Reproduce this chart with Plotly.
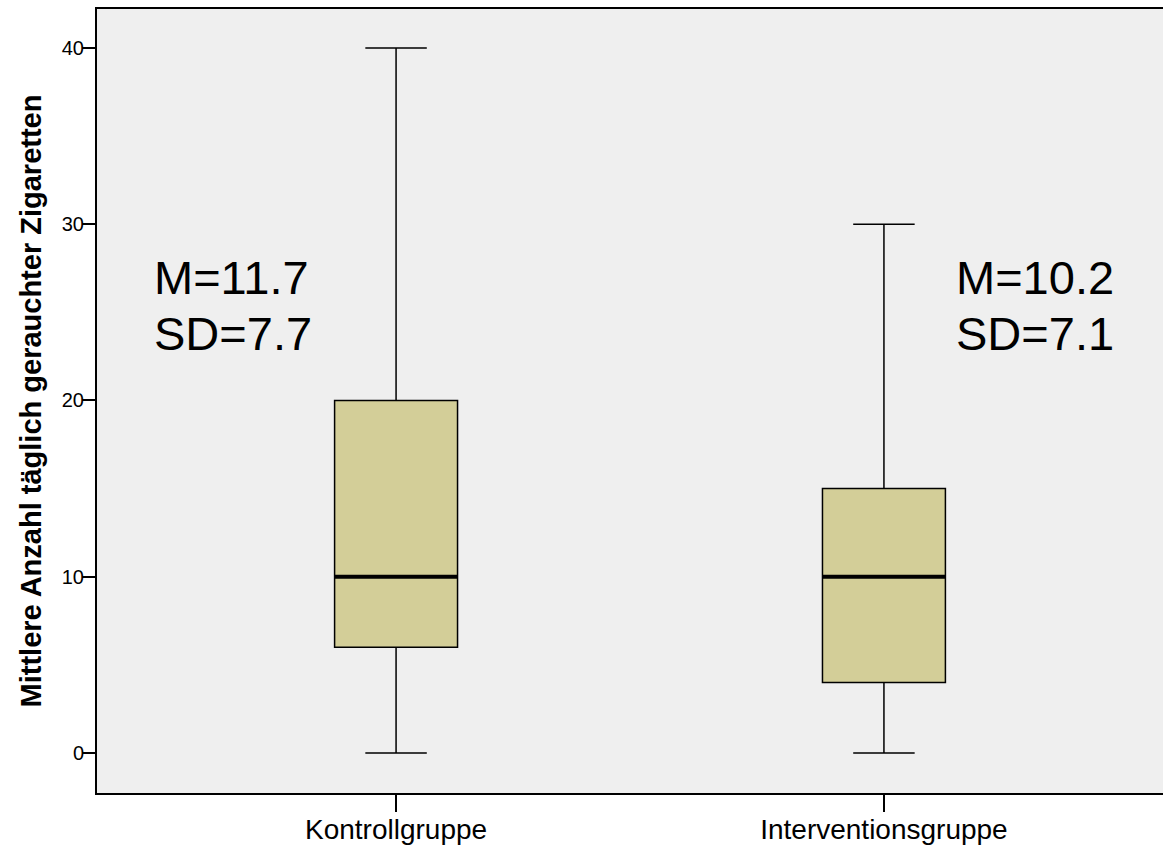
import plotly.graph_objects as go

categories = ["Kontrollgruppe", "Interventionsgruppe"]
positions = [0, 1]
q1 = [6, 4]
median = [10, 10]
q3 = [20, 15]
lower = [0, 0]
upper = [40, 30]
mean_labels = ["M=11.7", "M=10.2"]
sd_labels = ["SD=7.7", "SD=7.1"]

y_ticks = [0, 10, 20, 30, 40]
y_title = "Mittlere Anzahl täglich gerauchter Zigaretten"

FONT = "Liberation Sans, Arial, sans-serif"
BOX_W = 0.252

fig = go.Figure()
fig.add_trace(go.Box(
    x=positions, q1=q1, median=median, q3=q3,
    lowerfence=lower, upperfence=upper,
    width=BOX_W, whiskerwidth=0.5,
    fillcolor="#D3CE98",
    line=dict(color="black", width=1.5),
    boxpoints=False, hoverinfo="skip", showlegend=False,
))
for p, m in zip(positions, median):
    fig.add_trace(go.Scatter(
        x=[p - BOX_W / 2, p + BOX_W / 2], y=[m, m], mode="lines",
        line=dict(color="black", width=4), showlegend=False, hoverinfo="skip",
    ))

ann_x = [-0.5, 1.144]
for ax, ml, sl in zip(ann_x, mean_labels, sd_labels):
    fig.add_annotation(x=ax, y=26.95, text=ml, showarrow=False, xanchor="left",
                       yanchor="middle", font=dict(size=47, color="black", family=FONT))
    fig.add_annotation(x=ax, y=23.8, text=sl, showarrow=False, xanchor="left",
                       yanchor="middle", font=dict(size=47, color="black", family=FONT))

fig.update_layout(
    width=1163, height=847,
    margin=dict(l=97, r=0, t=9, b=54),
    paper_bgcolor="white", plot_bgcolor="#EFEFEF",
    font=dict(family=FONT, color="black"),
    showlegend=False,
)
fig.update_xaxes(
    range=[-0.613, 1.572], tickmode="array", tickvals=positions, ticktext=categories,
    showline=True, linecolor="black", linewidth=2, mirror=True,
    ticks="outside", ticklen=17, tickwidth=2, tickcolor="black",
    tickfont=dict(size=28, family=FONT, color="black"), ticklabelstandoff=-7,
    showgrid=False, zeroline=False, automargin=False,
)
fig.update_yaxes(
    range=[-2.27, 42.21], tickmode="array", tickvals=y_ticks,
    showline=True, linecolor="black", linewidth=2, mirror=False,
    ticks="outside", ticklen=13, tickwidth=2, tickcolor="black",
    tickfont=dict(size=20, family=FONT, color="black"), ticklabelstandoff=-6,
    showgrid=False, zeroline=False, automargin=False,
    title=dict(text="<b>" + y_title + "</b>", font=dict(size=29, family=FONT, color="black"),
               standoff=12),
)

fig.write_html(
    "out.html",
    config={"displayModeBar": False},
    post_script="document.body.style.margin='0';document.body.style.overflow='hidden';",
)
